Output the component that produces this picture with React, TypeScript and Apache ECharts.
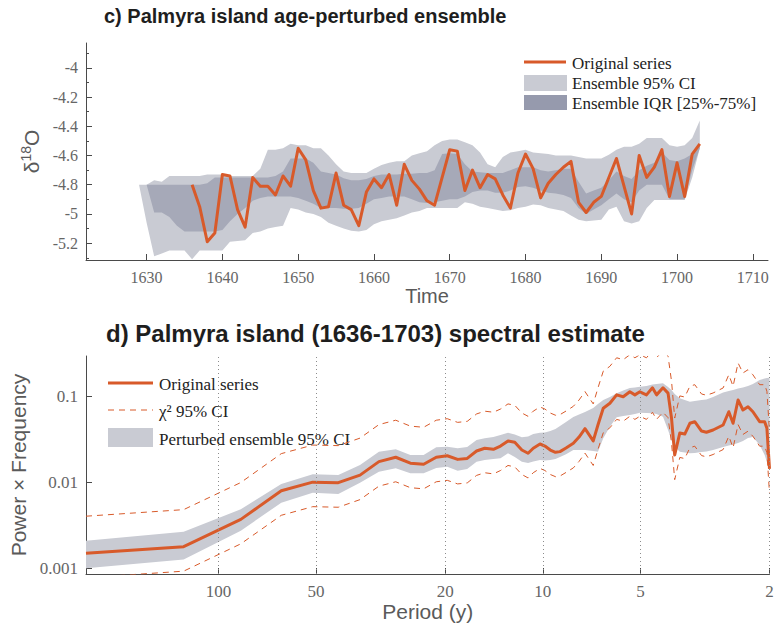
import React, { useEffect, useRef } from "react";
import * as echarts from "echarts";

// ---------- Panel c: age-perturbed ensemble ----------
const FIRST_YEAR = 1636;
const originalSeries = [
  -4.80, -4.95, -5.19, -5.13, -4.73, -4.74, -4.97, -5.09, -4.75, -4.81,
  -4.81, -4.87, -4.74, -4.81, -4.55, -4.63, -4.84, -4.96, -4.95, -4.72,
  -4.94, -4.97, -5.08, -4.85, -4.76, -4.82, -4.73, -4.94, -4.66, -4.77,
  -4.83, -4.91, -4.94, -4.75, -4.56, -4.57, -4.84, -4.70, -4.82, -4.73,
  -4.76, -4.87, -4.96, -4.72, -4.59, -4.69, -4.89, -4.79, -4.73, -4.68,
  -4.64, -4.92, -4.99, -4.92, -4.88, -4.75, -4.62, -4.81, -5.00, -4.60,
  -4.75, -4.68, -4.56, -4.88, -4.65, -4.88, -4.59, -4.52,
];
const BAND_FIRST_YEAR = 1629;
const ci95High = [
  -4.80, -4.80, -4.77, -4.78, -4.74, -4.74, -4.74, -4.74, -4.74, -4.73,
  -4.73, -4.73, -4.74, -4.74, -4.74, -4.74, -4.69, -4.56, -4.56, -4.55,
  -4.52, -4.53, -4.53, -4.55, -4.55, -4.60, -4.66, -4.71, -4.72, -4.72,
  -4.72, -4.69, -4.665, -4.65, -4.64, -4.64, -4.60, -4.585, -4.57, -4.53,
  -4.50, -4.49, -4.49, -4.51, -4.53, -4.58, -4.66, -4.68, -4.61, -4.58,
  -4.57, -4.56, -4.58, -4.585, -4.59, -4.60, -4.60, -4.60, -4.61, -4.62,
  -4.62, -4.62, -4.595, -4.56, -4.54, -4.54, -4.52, -4.48, -4.48, -4.48,
  -4.53, -4.54, -4.53, -4.48, -4.36,
];
const iqrHigh = [
  -4.80, -4.80, -4.80, -4.80, -4.80, -4.80, -4.80, -4.80, -4.80, -4.79,
  -4.75, -4.75, -4.75, -4.75, -4.75, -4.75, -4.75, -4.75, -4.74, -4.71,
  -4.62, -4.62, -4.62, -4.65, -4.71, -4.72, -4.73, -4.755, -4.77, -4.77,
  -4.76, -4.74, -4.73, -4.73, -4.73, -4.725, -4.725, -4.72, -4.72, -4.70,
  -4.59, -4.585, -4.59, -4.66, -4.71, -4.715, -4.72, -4.72, -4.72, -4.70,
  -4.68, -4.68, -4.68, -4.70, -4.71, -4.70, -4.69, -4.69, -4.78, -4.86,
  -4.84, -4.82, -4.77, -4.71, -4.74, -4.76, -4.70, -4.67, -4.65, -4.58,
  -4.63, -4.64, -4.62, -4.59, -4.52,
];
const iqrLow = [
  -4.80, -4.80, -4.99, -4.99, -5.02, -5.08, -5.12, -5.12, -5.12, -5.12,
  -5.12, -5.11, -5.05, -5.00, -4.96, -4.91, -4.89, -4.88, -4.88, -4.88,
  -4.88, -4.89, -4.91, -4.93, -4.96, -4.96, -4.96, -4.965, -4.965, -4.96,
  -4.93, -4.90, -4.89, -4.88, -4.88, -4.88, -4.90, -4.92, -4.925, -4.92,
  -4.91, -4.90, -4.90, -4.88, -4.85, -4.84, -4.84, -4.855, -4.855, -4.84,
  -4.815, -4.81, -4.82, -4.84, -4.855, -4.86, -4.87, -4.89, -4.96, -5.00,
  -4.97, -4.94, -4.90, -4.86, -4.90, -4.92, -4.84, -4.80, -4.80, -4.80,
  -4.90, -4.90, -4.90, -4.70, -4.55,
];
const ci95Low = [
  -4.80, -5.06, -5.29, -5.27, -5.25, -5.25, -5.25, -5.31, -5.25, -5.25,
  -5.25, -5.25, -5.19, -5.185, -5.18, -5.13, -5.12, -5.10, -5.09, -5.08,
  -4.96, -4.97, -4.99, -5.00, -5.02, -5.06, -5.08, -5.10, -5.115, -5.12,
  -5.11, -5.07, -5.05, -5.04, -5.03, -5.01, -4.99, -4.98, -4.96, -4.96,
  -4.96, -4.96, -4.96, -4.92, -4.93, -4.95, -4.96, -4.97, -4.98, -4.975,
  -4.96, -4.95, -4.935, -4.94, -4.96, -4.97, -4.98, -5.01, -5.04, -5.05,
  -5.045, -5.04, -4.97, -4.95, -5.05, -5.065, -5.05, -4.96, -4.905, -4.905,
  -4.905, -4.905, -4.905, -4.75, -4.55,
];
const timeTicks = [1630, 1640, 1650, 1660, 1670, 1680, 1690, 1700, 1710];
const d18OTicks = [-5.2, -5, -4.8, -4.6, -4.4, -4.2, -4];
const d18OMinorTicks = [-5.3, -5.1, -4.9, -4.7, -4.5, -4.3, -4.1, -3.9];

// ---------- Panel d: spectral estimate ----------
const periods = [
  256, 128, 85.3, 64, 51.2, 42.7, 36.6, 32, 28.4, 25.6,
  23.3, 21.3, 19.7, 18.3, 17.1, 16, 15.1, 14.2, 13.5, 12.8,
  12.2, 11.6, 11.1, 10.7, 10.2, 9.85, 9.48, 9.14, 8.85, 8.48,
  8.05, 7.73, 7.41, 6.99, 6.76, 6.51, 6.21, 5.92, 5.65, 5.39,
  5.2, 5.02, 4.79, 4.59, 4.46, 4.26, 4.11, 4.01, 3.92, 3.78,
  3.65, 3.52, 3.4, 3.24, 3.13, 2.985, 2.78, 2.67, 2.59, 2.5,
  2.415, 2.33, 2.25, 2.145, 2.07, 2.037, 2.0,
];
const spectrum = [
  0.0015, 0.00179, 0.00372, 0.00802, 0.0101, 0.00995, 0.0122, 0.0175, 0.0197, 0.0168,
  0.0163, 0.0197, 0.0205, 0.0186, 0.0191, 0.0233, 0.0251, 0.0244, 0.0266, 0.0305,
  0.0294, 0.0239, 0.0219, 0.0251, 0.0281, 0.0266, 0.0239, 0.0225, 0.0229, 0.0252,
  0.0286, 0.0339, 0.0424, 0.0305, 0.0468, 0.0733, 0.0838, 0.105, 0.1, 0.114,
  0.105, 0.114, 0.105, 0.127, 0.105, 0.127, 0.11, 0.0565, 0.0209, 0.0378,
  0.0367, 0.049, 0.0511, 0.0398, 0.0385, 0.0409, 0.0468, 0.0668, 0.049, 0.0916,
  0.07, 0.0764, 0.0668, 0.0511, 0.0511, 0.0428, 0.0144,
];
const chi2Upper = [
  0.00405, 0.00483, 0.01, 0.0217, 0.0273, 0.0269, 0.0329, 0.0473, 0.0532, 0.0454,
  0.044, 0.0532, 0.0554, 0.0502, 0.0516, 0.0629, 0.0678, 0.0659, 0.0718, 0.0824,
  0.0794, 0.0645, 0.0591, 0.0678, 0.0759, 0.0718, 0.0645, 0.0608, 0.0618, 0.068,
  0.0772, 0.0915, 0.1145, 0.0824, 0.1264, 0.198, 0.226, 0.284, 0.27, 0.308,
  0.284, 0.308, 0.284, 0.343, 0.284, 0.343, 0.297, 0.1526, 0.0564, 0.1021,
  0.0991, 0.1323, 0.138, 0.1075, 0.104, 0.1104, 0.1264, 0.18, 0.1323, 0.247,
  0.189, 0.206, 0.18, 0.138, 0.138, 0.1156, 0.0389,
];
const chi2Lower = [
  0.000777, 0.000927, 0.00193, 0.00415, 0.00523, 0.00515, 0.00632, 0.00907, 0.0102, 0.0087,
  0.00844, 0.0102, 0.0106, 0.00963, 0.00989, 0.0121, 0.013, 0.0126, 0.0138, 0.0158,
  0.0152, 0.0124, 0.0113, 0.013, 0.0146, 0.0138, 0.0124, 0.0117, 0.0119, 0.0131,
  0.0148, 0.0176, 0.022, 0.0158, 0.0242, 0.038, 0.0434, 0.0544, 0.0518, 0.0591,
  0.0544, 0.0591, 0.0544, 0.0658, 0.0544, 0.0658, 0.057, 0.0293, 0.0108, 0.0196,
  0.019, 0.0254, 0.0265, 0.0206, 0.0199, 0.0212, 0.0242, 0.0346, 0.0254, 0.0474,
  0.0363, 0.0396, 0.0346, 0.0265, 0.0265, 0.0222, 0.00746,
];
const ensembleHigh = [
  0.0021, 0.00267, 0.00487, 0.00961, 0.01247, 0.01222, 0.016, 0.0229, 0.0244, 0.0209,
  0.0209, 0.0257, 0.0261, 0.0251, 0.0259, 0.0313, 0.0327, 0.0339, 0.0358, 0.0381,
  0.0362, 0.0337, 0.0344, 0.0367, 0.0381, 0.0382, 0.0398, 0.042, 0.0456, 0.0507,
  0.058, 0.062, 0.0663, 0.0738, 0.0822, 0.0916, 0.0992, 0.1096, 0.1181, 0.1262,
  0.128, 0.1309, 0.1333, 0.1387, 0.1406, 0.1433, 0.1297, 0.1197, 0.1075, 0.0958,
  0.0916, 0.0875, 0.089, 0.0916, 0.093, 0.0992, 0.1119, 0.1165, 0.1197, 0.1247,
  0.128, 0.1333, 0.1406, 0.1565, 0.163, 0.165, 0.1665,
];
const ensembleLow = [
  0.001, 0.00127, 0.00274, 0.00582, 0.0076, 0.00735, 0.00995, 0.01336, 0.01465, 0.0128,
  0.0128, 0.01476, 0.01528, 0.01374, 0.01437, 0.01746, 0.01828, 0.01879, 0.01914, 0.02188,
  0.01982, 0.01746, 0.01687, 0.01758, 0.01828, 0.0181, 0.0183, 0.0188, 0.0198, 0.0214,
  0.0239, 0.0239, 0.0239, 0.0233, 0.0229, 0.0327, 0.0447, 0.0575, 0.0596, 0.0612,
  0.0628, 0.0651, 0.0645, 0.064, 0.0628, 0.0585, 0.0409, 0.0313, 0.0261, 0.0229,
  0.0224, 0.0219, 0.0221, 0.0226, 0.023, 0.0239, 0.0259, 0.027, 0.0277, 0.0289,
  0.0305, 0.033, 0.0339, 0.0274, 0.0209, 0.0173, 0.0148,
];
const periodTicks = [100, 50, 20, 10, 5, 2];
const powerTicks = [0.001, 0.01, 0.1];

// ---------- styling ----------
const ORANGE = "#d85a2a";
const LIGHT = "#c9cbd3";
const DARK = "#a6a9b8";
const DARK_KEY = "#969aad";
const AXIS = "#4a4a4a";
const TICK_TXT = "#666666";
const NAME_TXT = "#5a5a5a";
const SERIF = "Liberation Serif";
const SANS = "Liberation Sans";

function bandSeries(name: string, xs: number[], lo: number[], hi: number[], color: string, xi: number, yi: number, z: number) {
  return {
    type: "custom",
    name,
    xAxisIndex: xi,
    yAxisIndex: yi,
    silent: true,
    clip: true,
    z,
    data: [[xs[0], lo[0]]],
    renderItem: (_params: any, api: any) => {
      const pts: number[][] = [];
      for (let i = 0; i < xs.length; i++) pts.push(api.coord([xs[i], hi[i]]));
      for (let i = xs.length - 1; i >= 0; i--) pts.push(api.coord([xs[i], lo[i]]));
      return { type: "polygon", shape: { points: pts }, style: { fill: color, stroke: "none" } };
    },
  };
}

function buildOption() {
  const years = originalSeries.map((_, i) => FIRST_YEAR + i);
  const bandYears = ci95High.map((_, i) => BAND_FIRST_YEAR + i);
  const freqs = periods.map((p) => 1 / p);
  const freqTicks = periodTicks.map((p) => 1 / p);

  const axisLine = { show: true, onZero: false, lineStyle: { color: AXIS, width: 1 } };
  const topLabel = { color: TICK_TXT, fontFamily: SERIF, fontSize: 16 };
  const botLabel = { color: TICK_TXT, fontFamily: SERIF, fontSize: 17 };

  const legendText = (x: number, y: number, text: string) => ({
    type: "text",
    x,
    y,
    style: { text, fontFamily: SERIF, fontSize: 17, fill: "#222", verticalAlign: "middle", align: "left" },
  });

  return {
    animation: false,
    backgroundColor: "#ffffff",
    title: [
      {
        text: "c) Palmyra island age-perturbed ensemble",
        left: 104,
        top: 6,
        padding: 0,
        textStyle: { fontFamily: SANS, fontWeight: "bold", fontSize: 20, color: "#1e1e1e" },
      },
      {
        text: "d) Palmyra island (1636-1703) spectral estimate",
        left: 106,
        top: 321,
        padding: 0,
        textStyle: { fontFamily: SANS, fontWeight: "bold", fontSize: 24, color: "#1e1e1e" },
      },
    ],
    grid: [
      { left: 86, top: 43, width: 682, height: 217, containLabel: false, outerBoundsMode: "none" },
      { left: 86, top: 356, width: 683.5, height: 218, containLabel: false, outerBoundsMode: "none" },
    ],
    xAxis: [
      {
        gridIndex: 0,
        type: "value",
        min: 1622,
        max: 1712,
        axisLine,
        axisTick: { show: true, inside: true, length: 6, lineStyle: { color: AXIS }, customValues: timeTicks },
        axisLabel: { ...topLabel, margin: 9, customValues: timeTicks, formatter: (v: number) => String(Math.round(v)) },
        splitLine: { show: false },
        name: "Time",
        nameLocation: "middle",
        nameGap: 26,
        nameTextStyle: { fontFamily: SANS, fontSize: 20, color: NAME_TXT },
      },
      {
        gridIndex: 1,
        type: "log",
        logBase: 10,
        min: 1 / 256,
        max: 0.5,
        axisLine,
        axisTick: { show: true, inside: true, length: 6, lineStyle: { color: AXIS }, customValues: freqTicks },
        axisLabel: { ...botLabel, margin: 9, customValues: freqTicks, formatter: (v: number) => String(Math.round(1 / v)) },
        splitLine: { show: false },
        minorTick: { show: false },
        name: "Period (y)",
        nameLocation: "middle",
        nameGap: 23,
        nameTextStyle: { fontFamily: SANS, fontSize: 21, color: NAME_TXT },
      },
    ],
    yAxis: [
      {
        gridIndex: 0,
        type: "value",
        position: "left",
        min: -5.315,
        max: -3.83,
        axisLine,
        axisTick: { show: true, inside: true, length: 6, lineStyle: { color: AXIS }, customValues: d18OTicks },
        axisLabel: {
          ...topLabel,
          margin: 8,
          customValues: d18OTicks,
          formatter: (v: number) => String(Math.round(v * 10) / 10),
        },
        splitLine: { show: false },
        name: "{a|δ}{s|18}{a|O}",
        nameLocation: "middle",
        nameGap: 38,
        nameRotate: 90,
        nameTextStyle: {
          fontFamily: SANS,
          fontSize: 21,
          color: NAME_TXT,
          rich: {
            a: { fontFamily: SANS, fontSize: 21, color: NAME_TXT, lineHeight: 25 },
            s: { fontFamily: SANS, fontSize: 14, color: NAME_TXT, lineHeight: 25, verticalAlign: "top" },
          },
        },
      },
      {
        gridIndex: 0,
        type: "value",
        position: "left",
        min: -5.315,
        max: -3.83,
        axisLine: { show: false },
        axisTick: { show: true, inside: true, length: 3, lineStyle: { color: AXIS }, customValues: d18OMinorTicks },
        axisLabel: { show: false },
        splitLine: { show: false },
      },
      {
        gridIndex: 1,
        type: "log",
        logBase: 10,
        min: 0.000859,
        max: 0.2979,
        axisLine,
        axisTick: { show: true, inside: true, length: 6, lineStyle: { color: AXIS }, customValues: powerTicks },
        axisLabel: {
          ...botLabel,
          margin: 8,
          customValues: powerTicks,
          formatter: (v: number) => String(Math.round(v * 1000) / 1000),
        },
        splitLine: { show: false },
        minorTick: { show: false },
        name: "Power × Frequency",
        nameLocation: "middle",
        nameGap: 57,
        nameRotate: 90,
        nameTextStyle: { fontFamily: SANS, fontSize: 21, color: NAME_TXT },
      },
    ],
    series: [
      bandSeries("Ensemble 95% CI", bandYears, ci95Low, ci95High, LIGHT, 0, 0, 1),
      bandSeries("Ensemble IQR [25%-75%]", bandYears, iqrLow, iqrHigh, DARK, 0, 0, 2),
      {
        type: "line",
        name: "Original series",
        xAxisIndex: 0,
        yAxisIndex: 0,
        z: 3,
        symbol: "none",
        silent: true,
        data: years.map((y, i) => [y, originalSeries[i]]),
        lineStyle: { color: ORANGE, width: 3, join: "round" },
      },
      bandSeries("Perturbed ensemble 95% CI", freqs, ensembleLow, ensembleHigh, LIGHT, 1, 2, 1),
      {
        type: "line",
        name: "χ² 95% CI upper",
        xAxisIndex: 1,
        yAxisIndex: 2,
        z: 2,
        symbol: "none",
        silent: true,
        data: freqs.map((f, i) => [f, chi2Upper[i]]),
        lineStyle: { color: ORANGE, width: 1, type: [6, 5] },
      },
      {
        type: "line",
        name: "χ² 95% CI lower",
        xAxisIndex: 1,
        yAxisIndex: 2,
        z: 2,
        symbol: "none",
        silent: true,
        data: freqs.map((f, i) => [f, chi2Lower[i]]),
        lineStyle: { color: ORANGE, width: 1, type: [6, 5] },
      },
      {
        type: "line",
        name: "Spectrum",
        xAxisIndex: 1,
        yAxisIndex: 2,
        z: 3,
        symbol: "none",
        silent: true,
        data: freqs.map((f, i) => [f, spectrum[i]]),
        lineStyle: { color: ORANGE, width: 3, join: "round" },
        markLine: {
          silent: true,
          symbol: ["none", "none"],
          label: { show: false },
          lineStyle: { color: "#8c8c8c", width: 1, type: [1, 3] },
          data: freqTicks.map((f) => ({ xAxis: f })),
        },
      },
    ],
    graphic: [
      // legend, panel c
      { type: "line", shape: { x1: 524, y1: 62, x2: 566, y2: 62 }, style: { stroke: ORANGE, lineWidth: 3 } },
      legendText(572, 63, "Original series"),
      { type: "rect", shape: { x: 524, y: 75, width: 43, height: 16 }, style: { fill: LIGHT } },
      legendText(572, 83, "Ensemble 95% CI"),
      { type: "rect", shape: { x: 524, y: 95, width: 43, height: 15 }, style: { fill: DARK_KEY } },
      legendText(572, 103, "Ensemble IQR [25%-75%]"),
      // legend, panel d
      { type: "line", shape: { x1: 108, y1: 383, x2: 153, y2: 383 }, style: { stroke: ORANGE, lineWidth: 3 } },
      legendText(159, 384, "Original series"),
      { type: "line", shape: { x1: 108, y1: 410, x2: 153, y2: 410 }, style: { stroke: ORANGE, lineWidth: 1, lineDash: [6, 5] } },
      legendText(159, 411, "χ² 95% CI"),
      { type: "rect", shape: { x: 108, y: 428, width: 45, height: 19 }, style: { fill: LIGHT } },
      legendText(159, 439, "Perturbed ensemble 95% CI"),
    ],
  };
}

export default function App() {
  const ref = useRef<HTMLDivElement>(null);
  useEffect(() => {
    document.body.style.margin = "0";
    const chart = echarts.init(ref.current as HTMLDivElement, null, { renderer: "svg" });
    chart.setOption(buildOption() as any);
    return () => chart.dispose();
  }, []);
  return <div ref={ref} style={{ width: 776, height: 626 }} />;
}
